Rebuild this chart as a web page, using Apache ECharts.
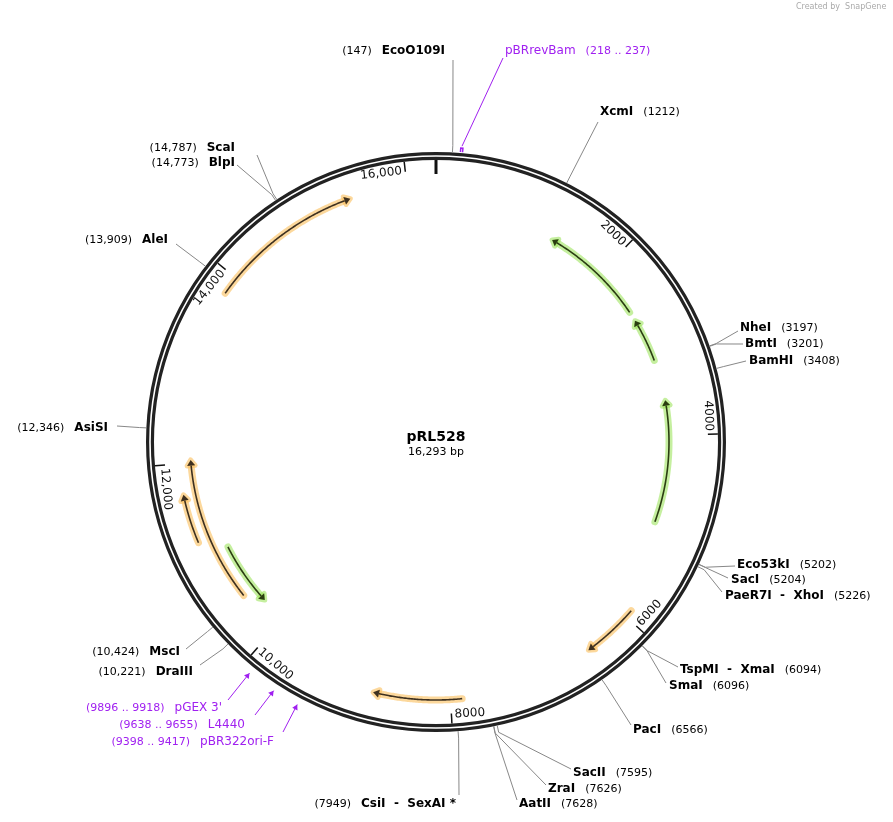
<!DOCTYPE html>
<html>
<head>
<meta charset="utf-8">
<script src="https://cdn.jsdelivr.net/npm/echarts@6/dist/echarts.min.js"></script>
<style>html,body{margin:0;padding:0;background:#fff}#main{width:893px;height:822px}</style>
</head>
<body>
<div id="main"></div>
<script>
var TOTAL = 16293;

// features: start bp, end bp, direction (1 fwd, -1 rev), kind
var featStart = [1353, 2653, 3607, 5921, 7883, 10287, 10473, 11180, 13813];
var featEnd   = [2544, 3146, 4980, 6508, 8785, 11008, 12030, 11685, 15415];
var featDir   = [-1, -1, -1, 1, 1, -1, 1, 1, 1];
var featKind  = ['green', 'green', 'green', 'orange', 'orange', 'green', 'orange', 'orange', 'orange'];
var featLane  = [233, 233, 233, 258, 258, 233, 246, 258, 258];

// restriction sites
var siteNames = ['EcoO109I', 'XcmI', 'NheI', 'BmtI', 'BamHI', 'Eco53kI', 'SacI', 'PaeR7I  -  XhoI',
  'TspMI  -  XmaI', 'SmaI', 'PacI', 'SacII', 'ZraI', 'AatII', 'CsiI  -  SexAI *',
  'ScaI', 'BlpI', 'AleI', 'AsiSI', 'MscI', 'DraIII'];
var siteBp = [147, 1212, 3197, 3201, 3408, 5202, 5204, 5226, 6094, 6096, 6566, 7595, 7626, 7628, 7949,
  14787, 14773, 13909, 12346, 10424, 10221];
// label layout: x, y, align, link x, link y
var siteLayout = [
  [445, 51, 'right', 453, 60], [600, 112, 'left', 598, 122], [740, 328, 'left', 738, 331],
  [745, 344, 'left', 743, 344], [749, 361, 'left', 746, 361], [737, 565, 'left', 735, 566],
  [731, 580, 'left', 728, 578], [725, 596, 'left', 722, 592], [680, 670, 'left', 678, 667],
  [669, 686, 'left', 666, 683], [633, 730, 'left', 631, 725], [573, 773, 'left', 571, 769],
  [548, 789, 'left', 546, 785], [519, 804, 'left', 517, 800], [456, 804, 'right', 459, 795],
  [235, 148, 'right', 257, 155], [235, 163, 'right', 237, 165], [168, 240, 'right', 176, 244],
  [108, 428, 'right', 117, 426], [180, 652, 'right', 186, 649], [193, 672, 'right', 200, 665]
];

// primers
var primerNames = ['pBRrevBam', "pGEX 3'", 'L4440', 'pBR322ori-F'];
var primerStart = [218, 9896, 9638, 9398];
var primerEnd   = [237, 9918, 9655, 9417];
var primerLayout = [[505, 51, 'left', 503, 58], [222, 708, 'right', 228, 700],
  [245, 725, 'right', 255, 715], [274, 742, 'right', 283, 732]];

var tickValues = [0, 2000, 4000, 6000, 8000, 10000, 12000, 14000, 16000];
var tickLabels = ['', '2000', '4000', '6000', '8000', '10,000', '12,000', '14,000', '16,000'];

// SnapGene only groups digits from 10,000 up
function fmt(n) { return n < 10000 ? String(n) : String(n).replace(/\B(?=(\d{3})+(?!\d))/g, ','); }

var FONT = 'DejaVu Sans';

function ringItem(params, api) {
  var c = api.coord([0, 0]);
  return {
    type: 'group', children: [
      { type: 'circle', shape: { cx: c[0], cy: c[1], r: 286 }, style: { fill: null, stroke: '#222', lineWidth: 8 } },
      { type: 'circle', shape: { cx: c[0], cy: c[1], r: 286 }, style: { fill: null, stroke: '#fff', lineWidth: 1.6 } }
    ]
  };
}

function featureItem(params, api) {
  var s = api.value(0), e = api.value(1), dir = api.value(2), r = api.value(3), i = params.dataIndex;
  var green = featKind[i] === 'green';
  var glow = green ? 'rgba(150,225,80,0.55)' : 'rgba(250,190,90,0.6)';
  var dark = green ? '#2b3d12' : '#3d3020';
  var from = dir > 0 ? s : e, to = dir > 0 ? e : s;
  var headBp = 60 * dir;
  var pts = [];
  var n = Math.max(8, Math.round(Math.abs(to - from) / 15));
  for (var k = 0; k <= n; k++) {
    var b = from + (to - headBp - from) * k / n;
    pts.push(api.coord([r, b]));
  }
  var tip = api.coord([r, to]);
  var back = pts[pts.length - 1];
  var dx = tip[0] - back[0], dy = tip[1] - back[1], L = Math.sqrt(dx * dx + dy * dy) || 1;
  var nx = -dy / L * 4, ny = dx / L * 4;
  var head = [tip, [back[0] + nx, back[1] + ny], [back[0] - nx, back[1] - ny]];
  return {
    type: 'group', children: [
      { type: 'polyline', shape: { points: pts }, style: { stroke: glow, lineWidth: 7, fill: null, lineCap: 'round' } },
      { type: 'polygon', shape: { points: head }, style: { fill: glow, stroke: glow, lineWidth: 5, lineJoin: 'round' } },
      { type: 'polyline', shape: { points: pts }, style: { stroke: dark, lineWidth: 1.6, fill: null } },
      { type: 'polygon', shape: { points: head }, style: { fill: dark } }
    ]
  };
}

function tickItem(params, api) {
  var v = api.value(0), i = params.dataIndex;
  var p1 = api.coord([282, v]), p2 = api.coord([v === 0 ? 268 : 272, v]);
  var ch = [{ type: 'line', shape: { x1: p1[0], y1: p1[1], x2: p2[0], y2: p2[1] },
    style: { stroke: '#111', lineWidth: v === 0 ? 3 : 1.5 } }];
  if (tickLabels[i]) {
    var th = v / TOTAL * 2 * Math.PI;
    var top = (v / TOTAL < 0.25 || v / TOTAL > 0.75);
    var a = api.coord([279, v - 30]);
    ch.push({
      type: 'text', x: a[0], y: a[1], rotation: top ? -th : Math.PI - th,
      style: { text: tickLabels[i], x: 0, y: 0, fontFamily: FONT, fontSize: 12, fill: '#111',
        align: top ? 'right' : 'left', verticalAlign: top ? 'top' : 'bottom' }
    });
  }
  return { type: 'group', children: ch };
}

function siteItem(params, api) {
  var i = params.dataIndex, bp = api.value(0), L = siteLayout[i];
  var p0 = api.coord([290, bp]), p1 = api.coord([297, bp]);
  var txt = L[2] === 'left' ? '{n|' + siteNames[i] + '}   {b|(' + fmt(bp) + ')}'
                            : '{b|(' + fmt(bp) + ')}   {n|' + siteNames[i] + '}';
  return {
    type: 'group', children: [
      { type: 'polyline', shape: { points: [p0, p1, [L[3], L[4]]] }, style: { stroke: '#888', lineWidth: 1, fill: null } },
      { type: 'text', x: L[0], y: L[1], style: { text: txt, align: L[2], verticalAlign: 'middle',
        rich: { n: { fontFamily: FONT, fontSize: 12, fontWeight: 'bold', fill: '#000' },
                b: { fontFamily: FONT, fontSize: 11, fill: '#000' } } } }
    ]
  };
}

function primerItem(params, api) {
  var i = params.dataIndex, s = api.value(0), e = api.value(1), L = primerLayout[i];
  var col = '#a020f0';
  var m = (s + e) / 2;
  var a0 = api.coord([291, s]), a1 = api.coord([295, s]), a2 = api.coord([295, e]), a3 = api.coord([291, e]);
  var tip = api.coord([297, m]);
  var dx = tip[0] - L[3], dy = tip[1] - L[4], d = Math.sqrt(dx * dx + dy * dy);
  var ux = dx / d, uy = dy / d;
  var head = [tip, [tip[0] - ux * 5 - uy * 3, tip[1] - uy * 5 + ux * 3], [tip[0] - ux * 5 + uy * 3, tip[1] - uy * 5 - ux * 3]];
  var txt = L[2] === 'left' ? '{n|' + primerNames[i] + '}   {b|(' + s + ' .. ' + e + ')}'
                            : '{b|(' + s + ' .. ' + e + ')}   {n|' + primerNames[i] + '}';
  var ch = [
    { type: 'line', shape: { x1: L[3], y1: L[4], x2: tip[0], y2: tip[1] }, style: { stroke: col, lineWidth: 1 } },
    { type: 'text', x: L[0], y: L[1], style: { text: txt, align: L[2], verticalAlign: 'middle',
      rich: { n: { fontFamily: FONT, fontSize: 12, fill: col }, b: { fontFamily: FONT, fontSize: 11, fill: col } } } }
  ];
  if (i === 0) {
    ch.push({ type: 'polyline', shape: { points: [a0, a1, a2, a3] }, style: { stroke: col, lineWidth: 1.5, fill: null } });
  } else {
    ch.push({ type: 'polygon', shape: { points: head }, style: { fill: col } });
  }
  return { type: 'group', children: ch };
}

var featData = featStart.map(function (s, i) { return [s, featEnd[i], featDir[i], featLane[i]]; });

var chart = echarts.init(document.getElementById('main'));
chart.setOption({
  backgroundColor: '#fff',
  animation: false,
  polar: { center: [436, 442], radius: 300 },
  angleAxis: { type: 'value', min: 0, max: TOTAL, startAngle: 90, clockwise: true,
    axisLine: { show: false }, axisTick: { show: false }, axisLabel: { show: false }, splitLine: { show: false } },
  radiusAxis: { type: 'value', min: 0, max: 300,
    axisLine: { show: false }, axisTick: { show: false }, axisLabel: { show: false }, splitLine: { show: false } },
  graphic: [
    { type: 'text', left: 796, top: 3, style: { text: 'Created by  SnapGene', fontFamily: FONT, fontSize: 8, fill: '#aaa' } },
    { type: 'text', x: 436, y: 437, style: { text: 'pRL528', fontFamily: FONT, fontSize: 14, fontWeight: 'bold', fill: '#000', align: 'center', verticalAlign: 'middle' } },
    { type: 'text', x: 436, y: 452, style: { text: '16,293 bp', fontFamily: FONT, fontSize: 11, fill: '#000', align: 'center', verticalAlign: 'middle' } }
  ],
  series: [
    { type: 'custom', coordinateSystem: 'polar', renderItem: ringItem, data: [[0, 0]], silent: true, z: 1 },
    { type: 'custom', coordinateSystem: 'polar', renderItem: siteItem, data: siteBp.map(function (b) { return [b]; }), silent: true, z: 2 },
    { type: 'custom', coordinateSystem: 'polar', renderItem: primerItem, data: primerStart.map(function (s, i) { return [s, primerEnd[i]]; }), silent: true, z: 2 },
    { type: 'custom', coordinateSystem: 'polar', renderItem: tickItem, data: tickValues.map(function (v) { return [v]; }), silent: true, z: 3 },
    { type: 'custom', coordinateSystem: 'polar', renderItem: featureItem, data: featData, silent: true, z: 4 }
  ]
});
</script>
</body>
</html>
